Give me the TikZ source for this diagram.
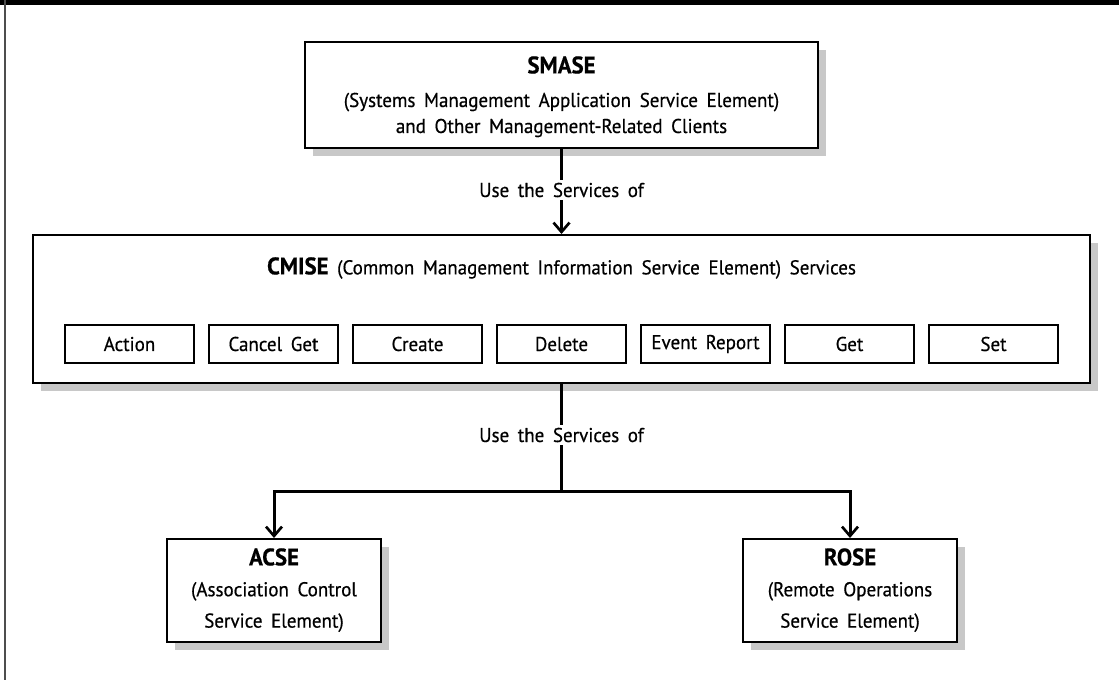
\documentclass[tikz,border=0pt]{standalone}
\usepackage{fontspec}
\setmainfont{PT Sans}[FakeStretch=0.95, WordSpace=1.7, FakeBold=0.5]
\usetikzlibrary{arrows.meta,shadows}
\definecolor{shadowgray}{RGB}{200,200,200}
\definecolor{edgegray}{RGB}{77,77,77}
\newcommand{\ttl}[1]{{\fontsize{18pt}{20pt}\selectfont\bfseries #1}}
\begin{document}
\begin{tikzpicture}[x=0.75pt,y=-0.75pt,
  txt/.style={font=\fontsize{15pt}{19.5pt}\selectfont, text=black},
  bigbox/.style={draw=black, line width=1.5pt, fill=white, inner sep=0pt,
    drop shadow={shadow xshift=6pt, shadow yshift=-6pt, fill=shadowgray, opacity=1}},
  svcbox/.style={draw=black, line width=1.1pt, fill=white, inner sep=0pt,
    minimum width=96.75pt, minimum height=28.5pt, txt},
  boxtext/.style={txt, align=center, inner sep=0pt},
  wide/.style={font=\fontsize{15pt}{23.5pt}\selectfont},
  lbl/.style={txt, fill=white, inner sep=2pt},
  conn/.style={line width=2.25pt, draw=black},
  arr/.style={conn, -{Straight Barb[length=7pt, width=12pt, line width=2pt]}}
]
\useasboundingbox (0,0) rectangle (1119,680);
\fill[white] (0,0) rectangle (1119,680);
\fill[black] (0,0) rectangle (1119,5);
\draw[edgegray, line width=1.5pt] (5,0) -- (5,680);

\node[bigbox, minimum width=384.75pt, minimum height=79.5pt] (smase) at (561.5,95) {};
\node[boxtext] (smasetitle) at (561.5,65) {\ttl{SMASE}};
\node[boxtext] (smasetext) at (561.5,115)
  {(Systems Management Application Service Element)\\and Other Management-Related Clients};

\node[bigbox, minimum width=792.75pt, minimum height=111pt] (cmise) at (561.5,309) {};
\node[txt, inner sep=0pt] (cmisetitle) at (561.5,268)
  {\ttl{CMISE} (Common Management Information Service Element) Services};

\node[svcbox] (action) at (129.5,344) {Action};
\node[svcbox] (cancelget) at (273.5,344) {Cancel Get};
\node[svcbox] (create) at (417.5,344) {Create};
\node[svcbox] (delete) at (561.5,344) {Delete};
\node[svcbox] (eventreport) at (705.5,344) {Event Report};
\node[svcbox] (get) at (849.5,344) {Get};
\node[svcbox] (set) at (993.5,344) {Set};

\node[bigbox, minimum width=160.5pt, minimum height=77.25pt] (acse) at (274,590.5) {};
\node[boxtext] (acsetitle) at (274,557) {\ttl{ACSE}};
\node[boxtext, wide] (acsetext) at (274,607)
  {(Association Control\\Service Element)};
\node[bigbox, minimum width=160.5pt, minimum height=77.25pt] (rose) at (850,590.5) {};
\node[boxtext] (rosetitle) at (850,557) {\ttl{ROSE}};
\node[boxtext, wide] (rosetext) at (850,607)
  {(Remote Operations\\Service Element)};

\node[lbl] (use1) at (561.5,190) {Use the Services of};
\node[lbl] (use2) at (561.5,435) {Use the Services of};
\coordinate (j) at (561.5,491);

\draw[conn] (smase.south) -- (use1.north);
\draw[arr] (use1.south) -- (cmise.north);
\draw[conn] (cmise.south) -- (use2.north);
\draw[conn] (use2.south) -- (j);
\draw[arr] (j) -| (acse.north);
\draw[arr] (j) -| (rose.north);
\end{tikzpicture}
\end{document}
